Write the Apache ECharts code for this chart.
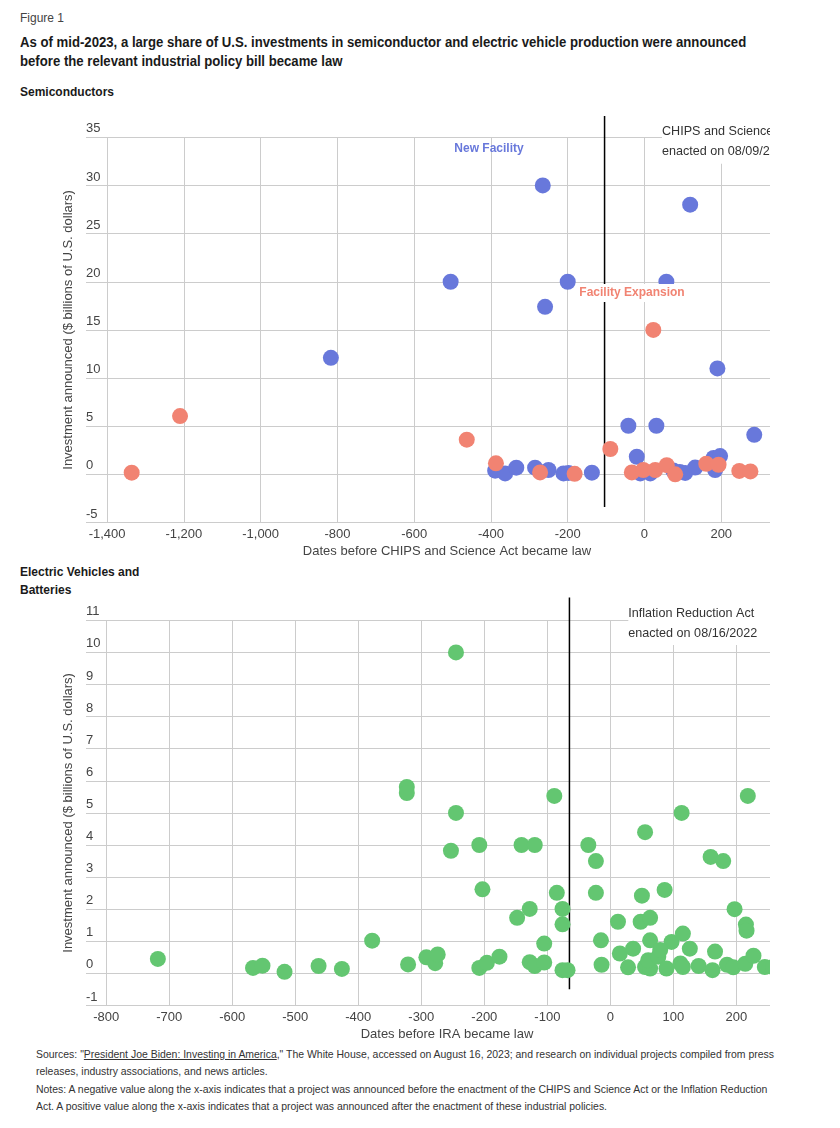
<!DOCTYPE html>
<html><head><meta charset="utf-8">
<script src="https://cdn.jsdelivr.net/npm/echarts@6/dist/echarts.min.js"></script>
<style>
html,body{margin:0;padding:0;background:#fff}
body{width:840px;height:1128px;position:relative;overflow:hidden;font-family:"Liberation Sans Narrow","Liberation Sans",sans-serif;color:#1a1a1a}
.t{position:absolute;left:20px;white-space:nowrap;transform-origin:0 0}
#fig{top:10px;font-size:12px;line-height:16px;color:#444}
#title{top:32.5px;font-size:14px;line-height:19px;font-weight:bold;transform:scaleX(0.94)}
#h1{top:84px;font-size:12px;line-height:16px;font-weight:bold}
#h2{top:563px;font-size:12px;line-height:18px;font-weight:bold}
.wrap{position:absolute;left:0;width:770px;overflow:hidden}
.chart{width:840px;height:100%}
#foot{position:absolute;left:36px;top:1046px;width:747px;overflow:hidden;font-size:11px;line-height:17.3px;color:#333}
#foot div{white-space:nowrap;transform:scaleX(0.95);transform-origin:0 0}
#foot a{color:#333;text-decoration:underline}
</style></head>
<body>
<div class="t" id="fig">Figure 1</div>
<div class="t" id="title">As of mid-2023, a large share of U.S. investments in semiconductor and electric vehicle production were announced<br>before the relevant industrial policy bill became law</div>
<div class="t" id="h1">Semiconductors</div>
<div class="wrap" style="top:105px;height:455px"><div class="chart" id="c1"></div></div>
<div class="t" id="h2">Electric Vehicles and<br>Batteries</div>
<div class="wrap" style="top:590px;height:455px"><div class="chart" id="c2"></div></div>
<div id="foot"><div>Sources: "<a>President Joe Biden: Investing in America</a>," The White House, accessed on August 16, 2023; and research on individual projects compiled from press<br>releases, industry associations, and news articles.<br>Notes: A negative value along the x-axis indicates that a project was announced before the enactment of the CHIPS and Science Act or the Inflation Reduction<br>Act. A positive value along the x-axis indicates that a project was announced after the enactment of these industrial policies.</div></div>
<script>
// ---- Semiconductors ----
const semiNewFacility = [[-817,12.1],[-505,20],[-265,30],[-259,17.4],[-200,20],[-389,0.38],[-363,0.1],[-334,0.69],[-285,0.69],[-250,0.45],[-211,0.1],[-198,0.15],[-137,0.17],[-42,5.05],[31,5.05],[57,20],[119,28],[190,11],[286,4.1],[-20,1.83],[-11,0.1],[15,0.1],[75,0.4],[92,0.25],[106,0.15],[132,0.7],[180,1.7],[197,1.9],[184,0.45]];
const semiExpansion = [[-1336,0.17],[-1210,6.05],[-463,3.6],[-387,1.14],[-272,0.2],[-182,0.05],[-89,2.63],[23,15],[-33,0.2],[-3,0.45],[28,0.45],[58,0.95],[80,0.0],[161,1.1],[193,1.0],[247,0.36],[276,0.3]];
const semiXTicks = [-1400,-1200,-1000,-800,-600,-400,-200,0,200];
const semiLawLine = [[-104,-3.4],[-104,37.2]];
// ---- EV & Batteries ----
const evProjects = [[-718,0.45],[-567,0.17],[-552,0.24],[-517,0.05],[-463,0.23],[-426,0.14],[-378,1.02],[-323,5.81],[-323,5.62],[-321,0.28],[-292,0.5],[-278,0.32],[-274,0.59],[-253,3.82],[-245,10.0],[-245,5.0],[-208,4.0],[-203,2.62],[-208,0.17],[-196,0.33],[-176,0.52],[-148,1.73],[-141,4.0],[-120,4.0],[-128,2.01],[-128,0.35],[-120,0.23],[-105,0.34],[-105,0.93],[-89,5.53],[-85,2.51],[-76,2.01],[-76,1.53],[-76,0.1],[-68,0.1],[-35,4.0],[-23,3.5],[-23,2.51],[-15,1.03],[-14,0.27],[12,1.61],[15,0.62],[28,0.19],[36,0.77],[55,4.4],[50,2.42],[48,1.61],[63,1.73],[63,1.03],[86,2.6],[113,5.0],[97,0.98],[115,1.24],[126,0.77],[159,3.63],[179,3.5],[166,0.68],[197,2.0],[215,1.52],[216,1.33],[218,5.53],[55,0.2],[63,0.15],[60,0.41],[76,0.52],[79,0.73],[89,0.15],[111,0.31],[115,0.2],[140,0.23],[162,0.1],[185,0.27],[195,0.19],[214,0.3],[227,0.55],[245,0.2],[258,0.2]];
const evXTicks = [-800,-700,-600,-500,-400,-300,-200,-100,0,100,200];
const evLawLine = [[-65,-0.49],[-65,11.71]];

const BLUE = '#6878db', RED = '#f18372', GREEN = '#63c671';
const GRID_C = '#cccccc', TXT = '#444';
const AX_FONT = '"Liberation Sans", Arial, sans-serif';

function baseOption(o) {
  return {
    animation: false,
    grid: { left: 86, right: 32, top: o.top, height: o.height, containLabel: false, outerBoundsMode: 'none' },
    xAxis: {
      type: 'value', min: o.xmin, max: o.xmax,
      name: o.xname, nameLocation: 'middle', nameGap: 22,
      nameTextStyle: { color: TXT, fontSize: 13, fontFamily: AX_FONT, verticalAlign: 'top' },
      axisLine: { show: false }, axisTick: { show: false, customValues: o.xticks },
      axisLabel: { customValues: o.xticks, color: TXT, fontSize: 13, fontFamily: AX_FONT, margin: 5, formatter: o.xfmt },
      splitLine: { show: true, lineStyle: { color: GRID_C, width: 1 } }
    },
    yAxis: {
      type: 'value', min: o.ymin, max: o.ymax, interval: o.yint,
      name: 'Investment announced ($ billions of U.S. dollars)', nameLocation: 'middle', nameRotate: 90, nameGap: 8,
      nameTextStyle: { color: TXT, fontSize: 13, fontFamily: AX_FONT },
      axisLine: { show: false }, axisTick: { show: false },
      axisLabel: { inside: true, margin: 0, align: 'left', verticalAlign: 'bottom', padding: [0,0,2,0], color: TXT, fontSize: 13, fontFamily: AX_FONT },
      splitLine: { show: true, lineStyle: { color: GRID_C, width: 1 } }
    },
    series: [],
    graphic: []
  };
}

// Chart 1
const c1 = echarts.init(document.getElementById('c1'), null, { renderer: 'canvas' });
const o1 = baseOption({ top: 32.3, height: 385.2, xmin: -1455, xmax: 426, xticks: semiXTicks, ymin: -5, ymax: 35, yint: 5,
  xname: 'Dates before CHIPS and Science Act became law', xfmt: v => Number(v).toLocaleString('en-US') });
o1.series = [
  { type: 'line', data: semiLawLine, showSymbol: false, symbol: 'none', clip: false, silent: true, z: 1, lineStyle: { color: '#000', width: 1.5 } },
  { type: 'scatter', name: 'New Facility', data: semiNewFacility, symbolSize: 16, itemStyle: { color: BLUE, opacity: 1 }, z: 3 },
  { type: 'scatter', name: 'Facility Expansion', data: semiExpansion, symbolSize: 16, itemStyle: { color: RED, opacity: 1 }, z: 4 }
];
o1.graphic = [
  { type: 'text', x: 662, y: 12.7, z: 100, style: { text: 'CHIPS and Science Act\nenacted on 08/09/2022', font: '12.6px "Liberation Sans", Arial, sans-serif', fill: '#333', lineHeight: 20, backgroundColor: '#fff', padding: [4, 90, 2, 0], align: 'left', verticalAlign: 'top' } },
  { type: 'text', x: 489, y: 44, z: 100, style: { text: 'New Facility', font: 'bold 12px "Liberation Sans", Arial, sans-serif', fill: BLUE, align: 'center', verticalAlign: 'middle' } },
  { type: 'text', x: 632, y: 188, z: 100, style: { text: 'Facility Expansion', font: 'bold 12px "Liberation Sans", Arial, sans-serif', fill: RED, align: 'center', verticalAlign: 'middle', backgroundColor: '#fff', padding: [3, 2, 3, 2] } }
];
c1.setOption(o1);

// Chart 2
const c2 = echarts.init(document.getElementById('c2'), null, { renderer: 'canvas' });
const o2 = baseOption({ top: 30.3, height: 385.2, xmin: -832, xmax: 313.5, xticks: evXTicks, ymin: -1, ymax: 11, yint: 1,
  xname: 'Dates before IRA became law', xfmt: v => String(v) });
o2.series = [
  { type: 'line', data: evLawLine, showSymbol: false, symbol: 'none', clip: false, silent: true, z: 1, lineStyle: { color: '#000', width: 1.5 } },
  { type: 'scatter', name: 'Projects', data: evProjects, symbolSize: 16, itemStyle: { color: GREEN, opacity: 1 }, z: 3 }
];
o2.graphic = [
  { type: 'text', x: 628.3, y: 10, z: 100, style: { text: 'Inflation Reduction Act\nenacted on 08/16/2022', font: '12.6px "Liberation Sans", Arial, sans-serif', fill: '#333', lineHeight: 20, backgroundColor: '#fff', padding: [4, 90, 1, 0], align: 'left', verticalAlign: 'top' } }
];
c2.setOption(o2);
</script>
</body></html>
